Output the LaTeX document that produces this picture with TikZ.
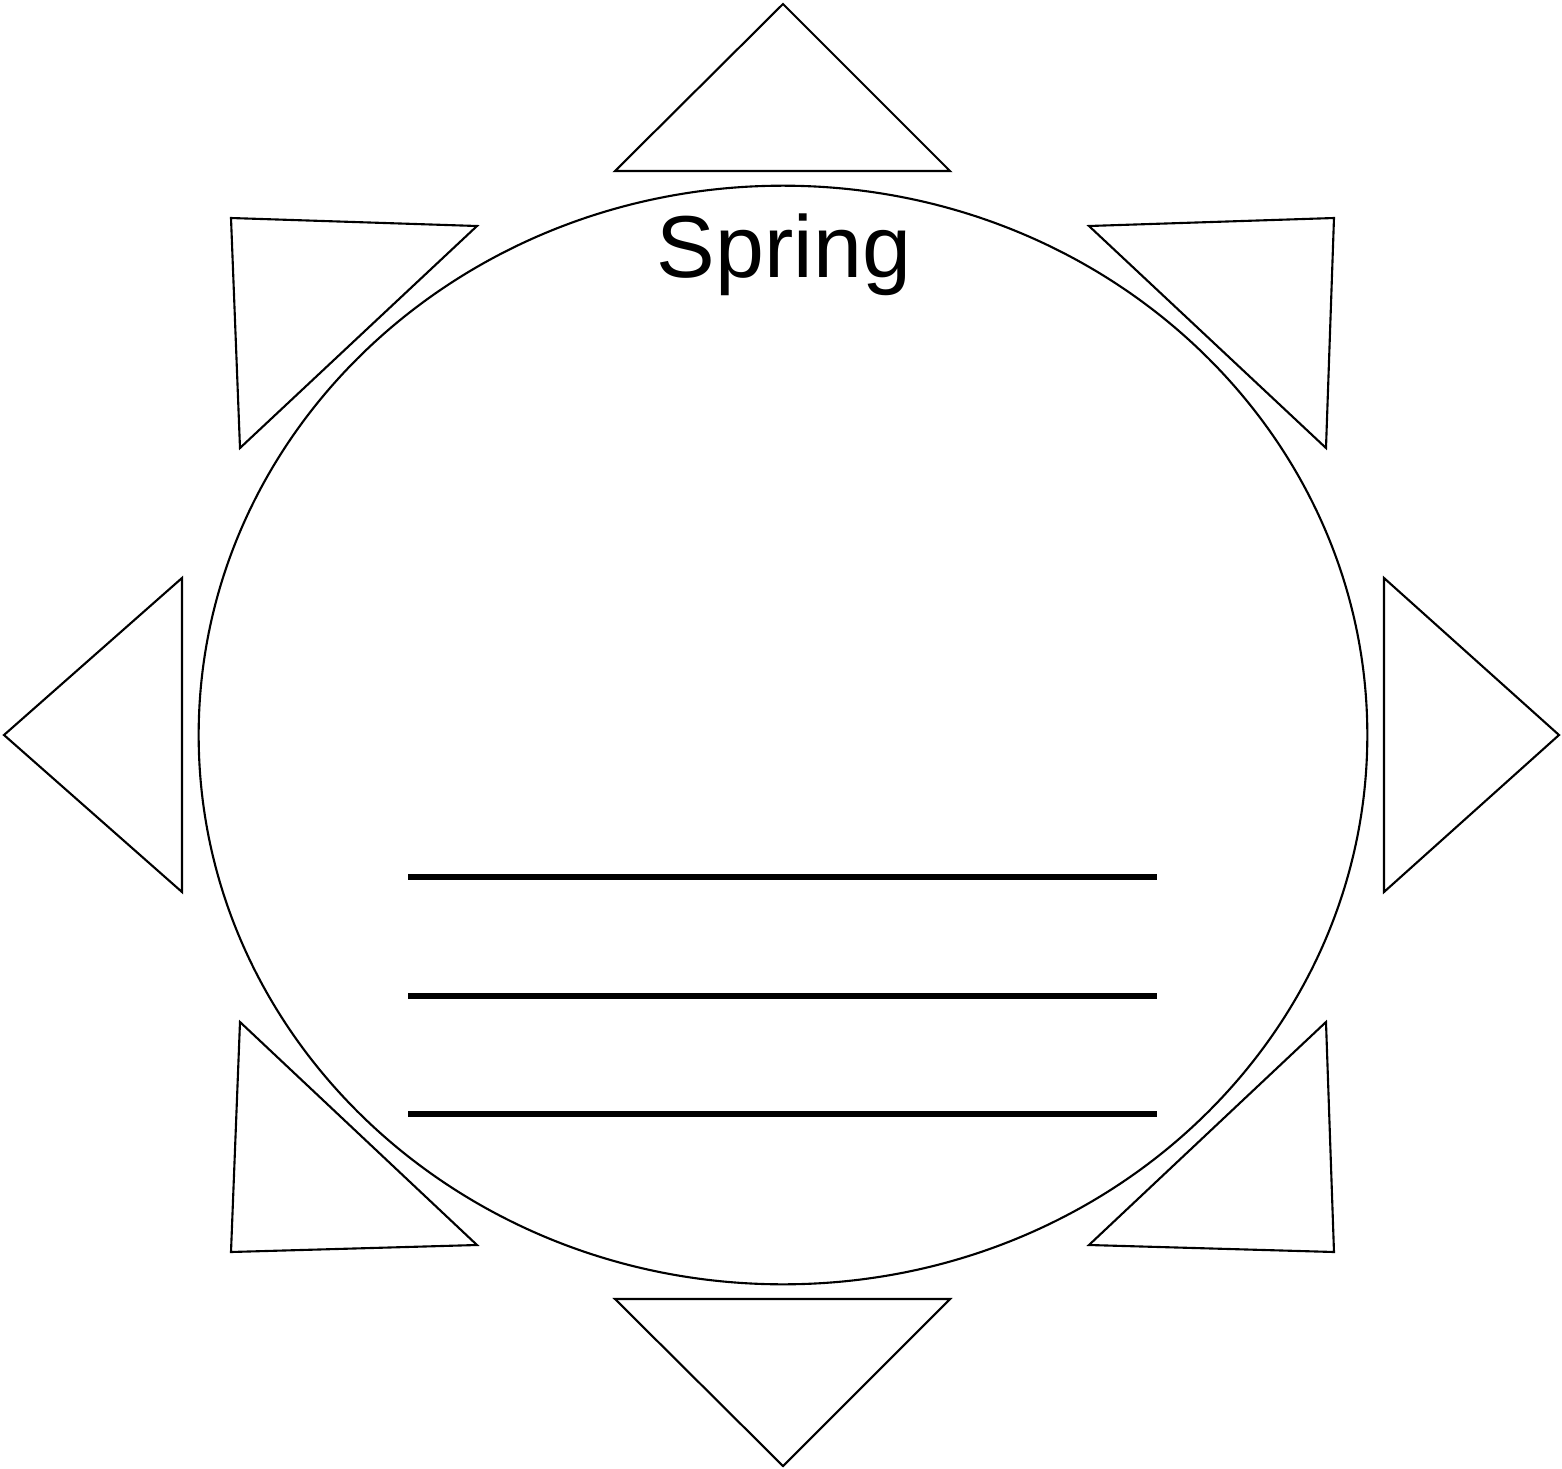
\documentclass[tikz,border=0pt]{standalone}
\usepackage{fontspec}
\setmainfont{Liberation Sans}
\usetikzlibrary{shapes.geometric}

\begin{document}
\begin{tikzpicture}[
    x=0.01cm, y=-0.01cm,
    ray/.style={draw, line width=0.6pt, line join=miter},
    sun/.style={ellipse, draw, line width=0.6pt, minimum width=11.68cm, minimum height=10.98cm, inner sep=0pt},
    title/.style={font=\fontsize{25}{30}\selectfont},
    writeline/.style={line width=1.6pt}
]
    \useasboundingbox (0,0) rectangle (1562,1469);

    \node[sun] (face) at (783,735) {};
    \node[title] (season) at (784,255) {Spring};

    % rays
    \draw[ray] (615,171) -- (783,4) -- (950,171) -- cycle;
    \draw[ray] (615,1299) -- (783,1466) -- (950,1299) -- cycle;
    \draw[ray] (182,578) -- (4,735) -- (182,892) -- cycle;
    \draw[ray] (1384,578) -- (1559,735) -- (1384,892) -- cycle;
    \draw[ray] (231,218) -- (477,226) -- (240,448) -- cycle;
    \draw[ray] (1089,226) -- (1334,218) -- (1326,448) -- cycle;
    \draw[ray] (240,1022) -- (477,1245) -- (231,1252) -- cycle;
    \draw[ray] (1326,1022) -- (1334,1252) -- (1089,1245) -- cycle;

    % lines for writing
    \foreach \y [count=\i] in {877,996,1114} {
        \coordinate (line\i-start) at (408,\y);
        \coordinate (line\i-end) at (1157,\y);
        \draw[writeline] (line\i-start) -- (line\i-end);
    }
\end{tikzpicture}
\end{document}
